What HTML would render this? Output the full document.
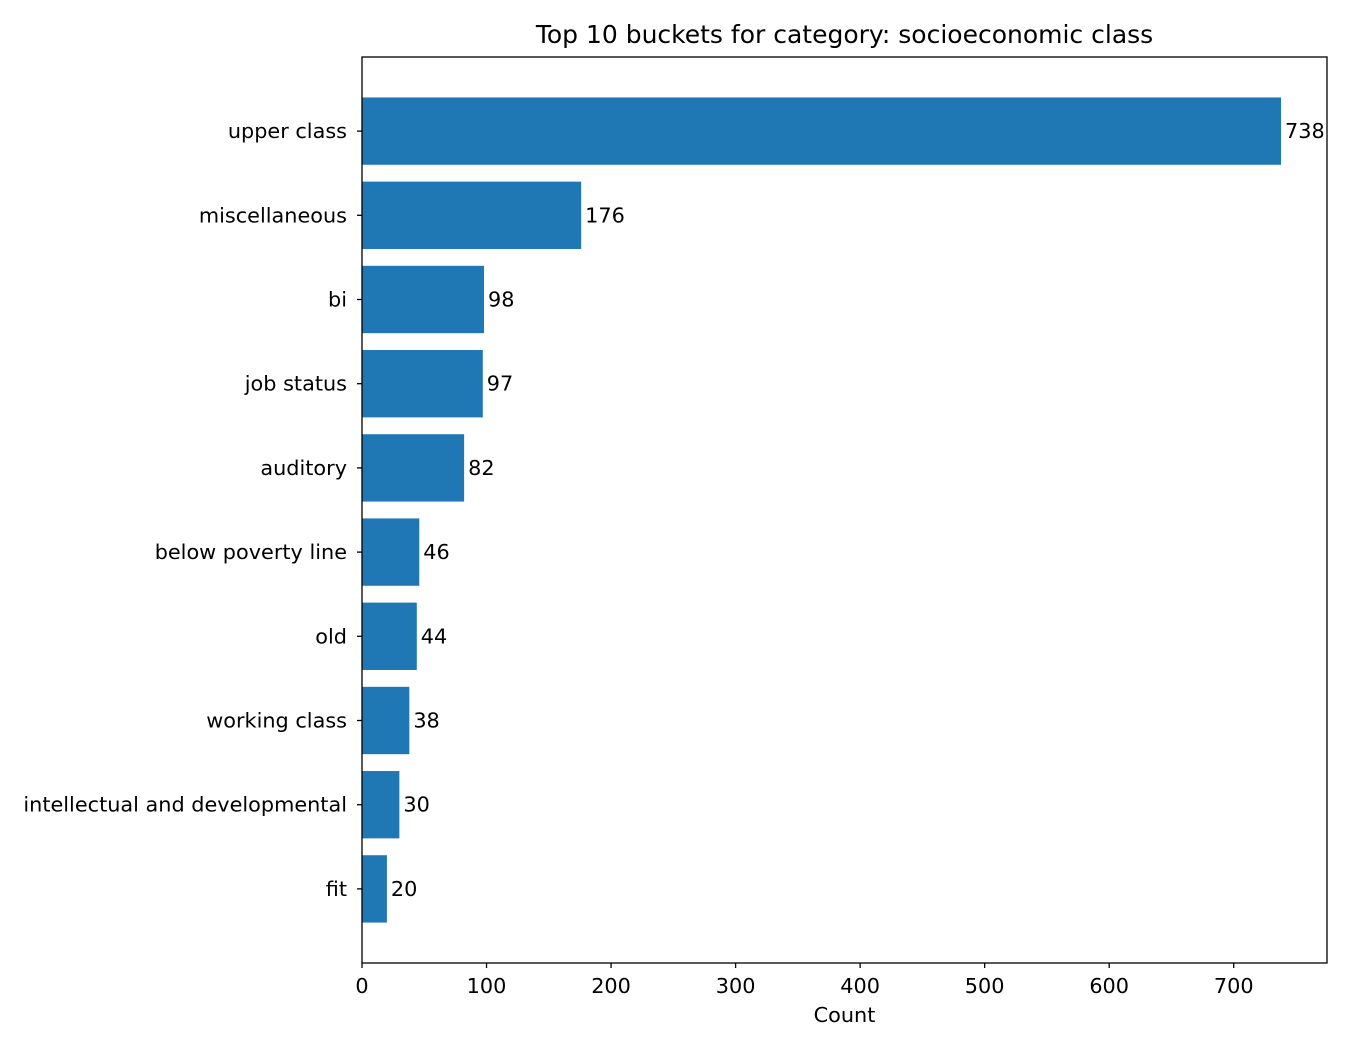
<!DOCTYPE html>
<html><head><meta charset="utf-8"><style>
body{margin:0;background:#fff}
svg text{font-family:"DejaVu Sans","Liberation Sans",sans-serif;fill:#000}
</style></head><body>
<svg id="chart" width="1350" height="1050">
<text x="844.5" y="43" font-size="25" text-anchor="middle">Top 10 buckets for category: socioeconomic class</text>
<g id="bars"></g>
<rect x="362" y="57" width="965" height="906" fill="none" stroke="#000" stroke-width="1.3"/>
<g id="xticks"></g>
<text x="844.5" y="1022" font-size="20.8" text-anchor="middle">Count</text>
</svg>
<script>
const categories=["upper class","miscellaneous","bi","job status","auditory","below poverty line","old","working class","intellectual and developmental","fit"];
const counts=[738,176,98,97,82,46,44,38,30,20];
const xTicks=[0,100,200,300,400,500,600,700];
const ns="http://www.w3.org/2000/svg";
const x0=362,x1=1327,xMax=Math.max(...counts)*1.05;
const xs=v=>x0+v/xMax*(x1-x0);
const y0=57,y1=963,n=categories.length;
const yMin=-0.4-0.049*(n-0.2),yMax=n-1+0.4+0.049*(n-0.2);
const ys=i=>y0+(i-yMin)/(yMax-yMin)*(y1-y0);
const unit=(y1-y0)/(yMax-yMin);
function mk(t,a){const e=document.createElementNS(ns,t);for(const k in a)e.setAttribute(k,a[k]);return e;}
const gb=document.getElementById('bars');
categories.forEach((c,i)=>{
  const cy=ys(i);
  const r=mk('rect',{x:x0,y:cy-0.4*unit,width:xs(counts[i])-x0,height:0.8*unit,fill:'#1f77b4'});
  
  
  gb.appendChild(r);
  const l=mk('text',{x:xs(counts[i])+4,y:cy+7,'font-size':20.8});
  l.textContent=counts[i];
  
  
  gb.appendChild(l);
  const tk=mk('line',{x1:x0-5,x2:x0,y1:cy,y2:cy,stroke:'#000','stroke-width':1.3});
  
  
  gb.appendChild(tk);
  const tl=mk('text',{x:x0-15,y:cy+7,'font-size':20.8,'text-anchor':'end'});
  tl.textContent=c;
  
  
  gb.appendChild(tl);
});
const gx=document.getElementById('xticks');
xTicks.forEach(v=>{
  const tk=mk('line',{x1:xs(v),x2:xs(v),y1:y1,y2:y1+5,stroke:'#000','stroke-width':1.3});
  
  
  gx.appendChild(tk);
  const t=mk('text',{x:xs(v),y:y1+30,'font-size':20.8,'text-anchor':'middle'});
  t.textContent=v;
  
  
  gx.appendChild(t);
});
</script>
</body></html>
